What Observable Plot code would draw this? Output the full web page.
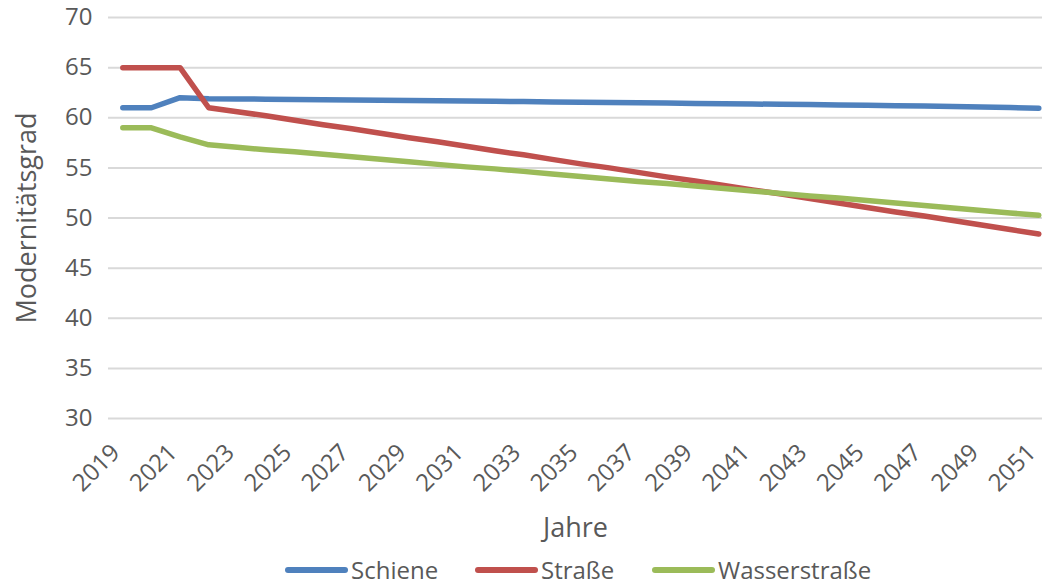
<!DOCTYPE html>
<html>
<head>
<meta charset="utf-8">
<script src="https://cdn.jsdelivr.net/npm/d3@7"></script>
<script src="https://cdn.jsdelivr.net/npm/@observablehq/plot@0.6"></script>
<style>
  body { margin: 0; background: #fff; font-family: "Open Sans", sans-serif; }
  #chart svg { display: block; }
  #legend { position: relative; height: 30px; font-family: "Open Sans", sans-serif; font-size: 24px; color: #595959; }
  #legend .item { position: absolute; top: 2px; height: 24px; line-height: 24px; display: flex; align-items: center; white-space: nowrap; }
  #legend .item span.t { line-height: 24px; }
  #legend .sw { display: inline-block; width: 63px; height: 6px; border-radius: 3px; margin-right: 3px; }
</style>
</head>
<body>
<div id="chart"></div>
<div id="legend"></div>
<script>
const years = d3.range(2019, 2052);
const seriesNames = ["Schiene", "Straße", "Wasserstraße"];
const seriesColors = ["#4f81bd", "#c0504d", "#9bbb59"];
const schiene = [61, 61, 62, 61.9, 61.88, 61.85, 61.83, 61.8, 61.78, 61.75, 61.72, 61.7, 61.67, 61.64, 61.61, 61.58, 61.55, 61.52, 61.49, 61.46, 61.43, 61.4, 61.37, 61.34, 61.31, 61.28, 61.24, 61.2, 61.16, 61.12, 61.07, 61.02, 60.95];
const strasse = [65, 65, 65, 61.0, 60.6, 60.2, 59.75, 59.3, 58.9, 58.45, 58.0, 57.6, 57.15, 56.7, 56.3, 55.85, 55.4, 55.0, 54.55, 54.1, 53.7, 53.25, 52.8, 52.4, 51.95, 51.5, 51.05, 50.6, 50.2, 49.75, 49.3, 48.85, 48.4];
const wasser = [59, 59, 58.1, 57.3, 57.05, 56.8, 56.6, 56.35, 56.1, 55.85, 55.6, 55.35, 55.1, 54.9, 54.65, 54.4, 54.15, 53.9, 53.65, 53.45, 53.2, 52.95, 52.7, 52.45, 52.2, 52.0, 51.75, 51.5, 51.25, 51.0, 50.75, 50.5, 50.27];
const yTicks = [30, 35, 40, 45, 50, 55, 60, 65, 70];
const xTicks = years.filter((y, i) => i % 2 === 0);
const yTitle = "Modernitätsgrad";
const xTitle = "Jahre";

const valuesBySeries = [schiene, strasse, wasser];
const data = [];
seriesNames.forEach((s, k) => years.forEach((yr, i) => data.push({series: s, year: yr, value: valuesBySeries[k][i]})));

const W = 1042, H = 556;
const chart = Plot.plot({
  width: W,
  height: H,
  marginLeft: 108,
  marginRight: 0,
  marginTop: 17,
  marginBottom: H - 418,
  style: { fontFamily: "Open Sans, sans-serif", color: "#595959", background: "#fff" },
  x: { domain: [2018.5, 2051.5], range: [108, 1052.6] },
  y: { domain: [30, 70] },
  color: { domain: seriesNames, range: seriesColors },
  marks: [
    Plot.gridY(yTicks, { stroke: "#d9d9d9", strokeOpacity: 1, strokeWidth: 2 }),
    Plot.axisY(yTicks, {
      tickSize: 0, tickPadding: 16, fontSize: 24, fill: "#595959", label: null
    }),
    Plot.axisX(xTicks, {
      tickSize: 0, tickPadding: 30, tickRotate: -45, fontSize: 24, fill: "#595959",
      tickFormat: d => String(d), dx: -7, label: null
    }),
    Plot.text([yTitle], {
      frameAnchor: "left", rotate: -90, dx: -81, fontSize: 27, fill: "#595959", textAnchor: "middle", lineAnchor: "middle"
    }),
    Plot.text([xTitle], {
      frameAnchor: "bottom", dy: 110, fontSize: 27, fill: "#595959", textAnchor: "middle", lineAnchor: "middle"
    }),
    Plot.line(data, {
      x: "year", y: "value", z: "series", stroke: "series",
      strokeWidth: 5.5, strokeLinecap: "round", strokeLinejoin: "round"
    })
  ]
});
document.getElementById("chart").appendChild(chart);

// legend
const legend = document.getElementById("legend");
const lefts = [285, 475, 652];
seriesNames.forEach((s, i) => {
  const item = document.createElement("div");
  item.className = "item";
  item.style.left = lefts[i] + "px";
  const sw = document.createElement("span");
  sw.className = "sw";
  sw.style.background = seriesColors[i];
  const t = document.createElement("span");
  t.className = "t";
  t.textContent = s;
  item.appendChild(sw);
  item.appendChild(t);
  legend.appendChild(item);
});
</script>
</body>
</html>
